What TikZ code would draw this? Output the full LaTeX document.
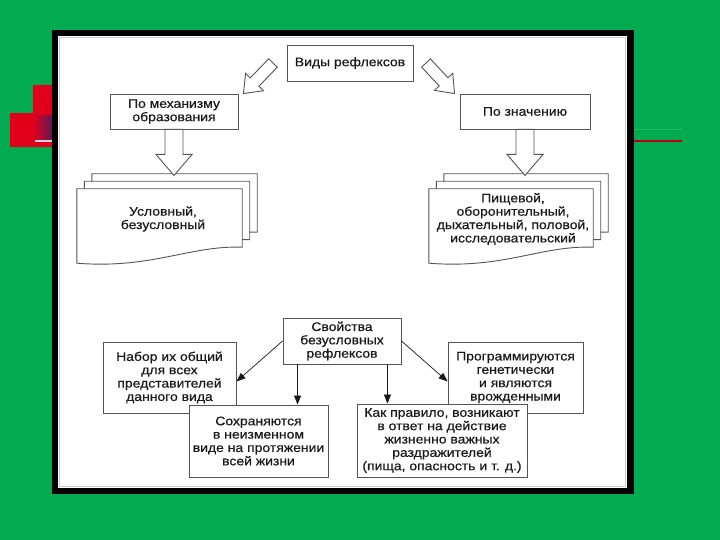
\documentclass[tikz,border=0pt]{standalone}
\usepackage{fontspec}
\setmainfont[FakeStretch=1.12, FakeBold=0.5]{Liberation Sans}
\usetikzlibrary{arrows.meta,calc}
\definecolor{SlideGreen}{HTML}{02AB4F}
\definecolor{SlideRed}{HTML}{E3001B}
\definecolor{DeepPlum}{HTML}{4A1F5C}
\definecolor{BoxLine}{HTML}{555555}
\definecolor{InkGray}{HTML}{1A1A1A}
\pgfdeclarelayer{back}
\pgfsetlayers{back,main}

% tail, tip, shaft half width, head half width, head length
\newcommand{\hollowarrow}[5]{%
  \path ($(#2)!#5!(#1)$) coordinate (ahead);
  \draw[hollow] ($(#1)!#3!90:(#2)$) -- ($(ahead)!#3!90:(#2)$) -- ($(ahead)!#4!90:(#2)$) -- (#2)
    -- ($(ahead)!#4!-90:(#2)$) -- ($(ahead)!#3!-90:(#2)$) -- ($(#1)!#3!-90:(#2)$) -- cycle;}
% one sheet of a document stack: node, dx, dy
\newcommand{\docpage}[3]{%
  \draw[sheet] ($(#1.north west)+(#2,#3)$) -- ($(#1.north east)+(#2,#3)$) -- ($(#1.south east)+(#2,#3-4)$)
    .. controls ($(#1.south east)+(#2-52,#3-6)$) and ($(#1.south west)+(#2+75,#3+18)$) .. ($(#1.south west)+(#2,#3+12)$) -- cycle;}

\begin{document}
\begin{tikzpicture}[x=1bp, y=-1bp, font=\fontsize{12.5}{13.4}\selectfont,
    box/.style={draw=BoxLine, line width=0.9bp, fill=white, align=center, inner sep=2bp, text=InkGray},
    sheettext/.style={align=center, inner sep=0pt, text=InkGray},
    sheet/.style={draw=BoxLine, line width=0.9bp, fill=white},
    hollow/.style={draw=BoxLine, line width=0.9bp, fill=white, line join=miter},
    thinarr/.style={draw=InkGray, line width=0.7bp, -{Triangle[length=9bp,width=7bp]}}]

    \begin{pgfonlayer}{back}
    \fill[SlideGreen] (0,0) rectangle (720,540);
    \fill[SlideRed] (33,85) rectangle (55,113);
    \fill[SlideRed] (10,113) rectangle (55,147);
    \shade[left color=SlideRed, right color=DeepPlum] (33,116) rectangle (55,140);
    \draw[violet!20, line width=2bp] (35,141) -- (55,141);
    \draw[SlideRed!85!black, line width=2bp] (627,141) -- (682,141);
    \draw[SlideGreen!85!white, line width=1bp] (627,130) -- (682,130);
    \fill[black] (52,30) rectangle (634,494);
    \fill[white] (58,36) rectangle (627,488);
    \draw[gray!40, line width=0.6bp] (59.5,37.5) rectangle (625.5,486.5);
    \end{pgfonlayer}

    \node[box, minimum width=126bp, minimum height=36bp] (vidy) at (350,63) {Виды рефлексов};
    \node[box, minimum width=128bp, minimum height=35bp] (meh) at (174,111.5) {По механизму\\образования};
    \node[box, minimum width=130bp, minimum height=35bp] (znach) at (525,111.5) {По значению};

    \path node[minimum width=165bp, minimum height=62bp] (usl) at (159.5,220) {};
    \path node[minimum width=164bp, minimum height=62bp] (pisch) at (511,220) {};
    \node[sheettext] (usltxt) at (163,219) {Условный,\\безусловный};
    \node[sheettext] (pischtxt) at (513,219) {Пищевой,\\оборонительный,\\дыхательный, половой,\\исследовательский};

    \begin{pgfonlayer}{back}
    \docpage{usl}{15}{-15}
    \docpage{usl}{7.5}{-7.5}
    \docpage{usl}{0}{0}
    \docpage{pisch}{15}{-15}
    \docpage{pisch}{7.5}{-7.5}
    \docpage{pisch}{0}{0}
    \end{pgfonlayer}

    \coordinate (vl) at (273,63);
    \coordinate (vr) at (426,63);
    \hollowarrow{vl}{[xshift=5bp]meh.north east}{6bp}{12.5bp}{16bp}
    \hollowarrow{vr}{[xshift=-5bp]znach.north west}{6bp}{12.5bp}{16bp}
    \hollowarrow{meh.south}{[yshift=-46bp]meh.south}{9bp}{18bp}{21bp}
    \hollowarrow{znach.south}{[yshift=-46bp]znach.south}{9bp}{18bp}{21bp}

    \node[box, minimum width=118bp, minimum height=46bp] (svoi) at (342,341) {Свойства\\безусловных\\рефлексов};
    \node[box, minimum width=133bp, minimum height=71bp] (nabor) at (169.5,377.5) {Набор их общий\\для всех\\представителей\\данного вида};
    \node[box, minimum width=135bp, minimum height=71bp] (progr) at (515.5,377.5) {Программируются\\генетически\\и являются\\врожденными};
    \node[box, minimum width=139bp, minimum height=72bp] (sohr) at (258.5,441) {Сохраняются\\в неизменном\\виде на протяжении\\всей жизни};
    \node[box, minimum width=170bp, minimum height=73bp] (kak) at (442,440.5) {Как правило, возникают\\в ответ на действие\\жизненно важных\\раздражителей\\(пища, опасность и т. д.)};

    \draw[thinarr] (svoi.west) -- ([yshift=-4bp]nabor.east);
    \draw[thinarr] (svoi.east) -- ([yshift=-4bp]progr.west);
    \draw[thinarr] ([xshift=15bp]svoi.south west) -- ([xshift=15bp]svoi.south west |- sohr.north);
    \draw[thinarr] ([xshift=-14bp]svoi.south east) -- ([xshift=-14bp]svoi.south east |- kak.north);
\end{tikzpicture}
\end{document}
